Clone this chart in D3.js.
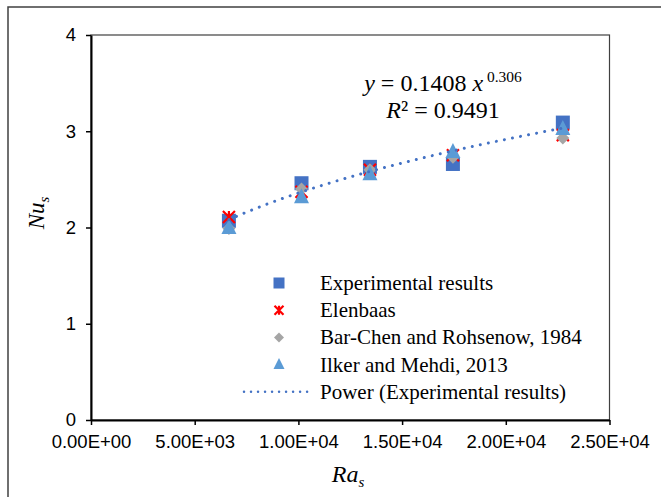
<!DOCTYPE html>
<html>
<head>
<meta charset="utf-8">
<script src="https://cdn.jsdelivr.net/npm/d3@7"></script>
<style>
  html, body { margin: 0; padding: 0; background: #fff; }
  svg { display: block; }
</style>
</head>
<body>
<svg id="chart" width="661" height="497"></svg>
<script>
// ---- data ----
const raValues      = [6650, 10150, 13450, 17450, 22750];
const experimental  = [2.07, 2.46, 2.63, 2.66, 3.09];
const elenbaas      = [2.11, 2.37, 2.60, 2.75, 2.96];
const barChen       = [1.99, 2.40, 2.60, 2.73, 2.93];
const ilker         = [2.01, 2.33, 2.57, 2.80, 3.04];
const xTicks        = [0, 5000, 10000, 15000, 20000, 25000];
const yTicks        = [0, 1, 2, 3, 4];
const trendA = 0.1408, trendB = 0.306, trendR2 = "0.9491";
const legendLabels = ["Experimental results", "Elenbaas", "Bar-Chen and Rohsenow, 1984",
                      "Ilker and Mehdi, 2013", "Power (Experimental results)"];

const svg = d3.select("#chart");
const serif = "'Liberation Serif', 'Times New Roman', serif";
const sans = "'Liberation Sans', Arial, sans-serif";

// outer frame
svg.append("rect").attr("x", 8).attr("y", 7).attr("width", 700).attr("height", 600)
  .attr("fill", "none").attr("stroke", "#404040").attr("stroke-width", 1.5);

const x = d3.scaleLinear().domain([0, 25000]).range([91, 609.5]);
const y = d3.scaleLinear().domain([0, 4]).range([420, 35]);

// plot box
svg.append("rect").attr("x", x(0)).attr("y", y(4)).attr("width", x(25000) - x(0)).attr("height", y(0) - y(4))
  .attr("fill", "none").attr("stroke", "#404040").attr("stroke-width", 1.2);

// axes
const fmt = d => d.toExponential(2).replace(/e([+-])(\d)$/, "E$10$2").replace("e", "E").toUpperCase();
const xAxis = svg.append("g").attr("transform", `translate(0,${y(0)})`)
  .call(d3.axisBottom(x).tickValues(xTicks).tickSize(5).tickSizeOuter(0).tickPadding(10).tickFormat(fmt));
const yAxis = svg.append("g").attr("transform", `translate(${x(0)},0)`)
  .call(d3.axisLeft(y).tickValues(yTicks).tickSize(5).tickSizeOuter(0).tickPadding(10).tickFormat(d3.format("d")));
[xAxis, yAxis].forEach(g => {
  g.select(".domain").attr("stroke", "#000").attr("stroke-width", 2);
  g.selectAll(".tick line").attr("stroke", "#000").attr("stroke-width", 1.5);
  g.selectAll(".tick text").attr("font-family", sans).attr("font-size", 18.5).attr("fill", "#000");
});

// axis titles
const xt = svg.append("text").attr("x", 348).attr("y", 482).attr("text-anchor", "middle")
  .attr("font-family", serif).attr("font-size", 24).attr("font-style", "italic");
xt.append("tspan").text("Ra");
xt.append("tspan").attr("dy", 5).attr("font-size", 15).text("s");

const yt = svg.append("text").attr("transform", "translate(44,213) rotate(-90)").attr("text-anchor", "middle")
  .attr("font-family", serif).attr("font-size", 23).attr("font-style", "italic");
yt.append("tspan").text("Nu");
yt.append("tspan").attr("dy", 5).attr("font-size", 15).text("s");

// marker drawers
const C_SQ = "#4472C4", C_X = "#FF0000", C_DI = "#A5A5A5", C_TR = "#5B9BD5";
function square(g, cx, cy, s) {
  g.append("rect").attr("x", cx - s / 2).attr("y", cy - s / 2).attr("width", s).attr("height", s).attr("fill", C_SQ);
}
function star(g, cx, cy, s) {
  const h = s / 2;
  g.append("path").attr("d", `M${cx - h},${cy - h}L${cx + h},${cy + h}M${cx + h},${cy - h}L${cx - h},${cy + h}M${cx},${cy - h}L${cx},${cy + h}`)
    .attr("stroke", C_X).attr("stroke-width", 2.2).attr("fill", "none");
}
function diamond(g, cx, cy, s) {
  const h = s / 2;
  g.append("path").attr("d", `M${cx},${cy - h}L${cx + h},${cy}L${cx},${cy + h}L${cx - h},${cy}Z`).attr("fill", C_DI);
}
function triangle(g, cx, cy, s) {
  const h = s / 2;
  g.append("path").attr("d", `M${cx},${cy - h}L${cx + h},${cy + h}L${cx - h},${cy + h}Z`).attr("fill", C_TR);
}

const marks = svg.append("g");
raValues.forEach((r, i) => square(marks, x(r), y(experimental[i]), 14));
raValues.forEach((r, i) => star(marks, x(r), y(elenbaas[i]), 12));
raValues.forEach((r, i) => diamond(marks, x(r), y(barChen[i]), 13));
raValues.forEach((r, i) => triangle(marks, x(r), y(ilker[i]), 15));

// power trendline (from the displayed fit equation)
const xs = d3.range(raValues[0], raValues[raValues.length - 1] + 1, 100);
const line = d3.line().x(d => x(d)).y(d => y(trendA * Math.pow(d, trendB)));
svg.append("path").datum(xs).attr("d", line).attr("fill", "none").attr("stroke", C_SQ)
  .attr("stroke-width", 3).attr("stroke-linecap", "round").attr("stroke-dasharray", "0.01 8.2");

// equation
const eq = svg.append("text").attr("x", 443).attr("y", 91).attr("text-anchor", "middle")
  .attr("font-family", serif).attr("font-size", 24);
eq.append("tspan").attr("font-style", "italic").text("y");
eq.append("tspan").text(" = " + trendA + " ");
eq.append("tspan").attr("font-style", "italic").text("x");
eq.append("tspan").attr("dy", -9).attr("font-size", 15.5).text(" " + trendB);
const r2 = svg.append("text").attr("x", 443).attr("y", 118).attr("text-anchor", "middle")
  .attr("font-family", serif).attr("font-size", 24);
r2.append("tspan").attr("font-style", "italic").text("R");
r2.append("tspan").text("² = " + trendR2);

// legend
const lg = svg.append("g");
const ly0 = 283, ldy = 27.2, lmx = 279, ltx = 320;
square(lg, lmx, ly0, 11);
star(lg, lmx, ly0 + ldy, 9);
diamond(lg, lmx, ly0 + 2 * ldy, 10);
triangle(lg, lmx, ly0 + 3 * ldy - 1, 11);
lg.append("line").attr("x1", 244).attr("x2", 313).attr("y1", ly0 + 4 * ldy).attr("y2", ly0 + 4 * ldy)
  .attr("stroke", C_SQ).attr("stroke-width", 2.5).attr("stroke-linecap", "round").attr("stroke-dasharray", "0.01 7");
legendLabels.forEach((t, i) => {
  lg.append("text").attr("x", ltx).attr("y", ly0 + i * ldy + 7).attr("font-family", serif).attr("font-size", 21)
    .attr("fill", "#000").text(t);
});
</script>
</body>
</html>
